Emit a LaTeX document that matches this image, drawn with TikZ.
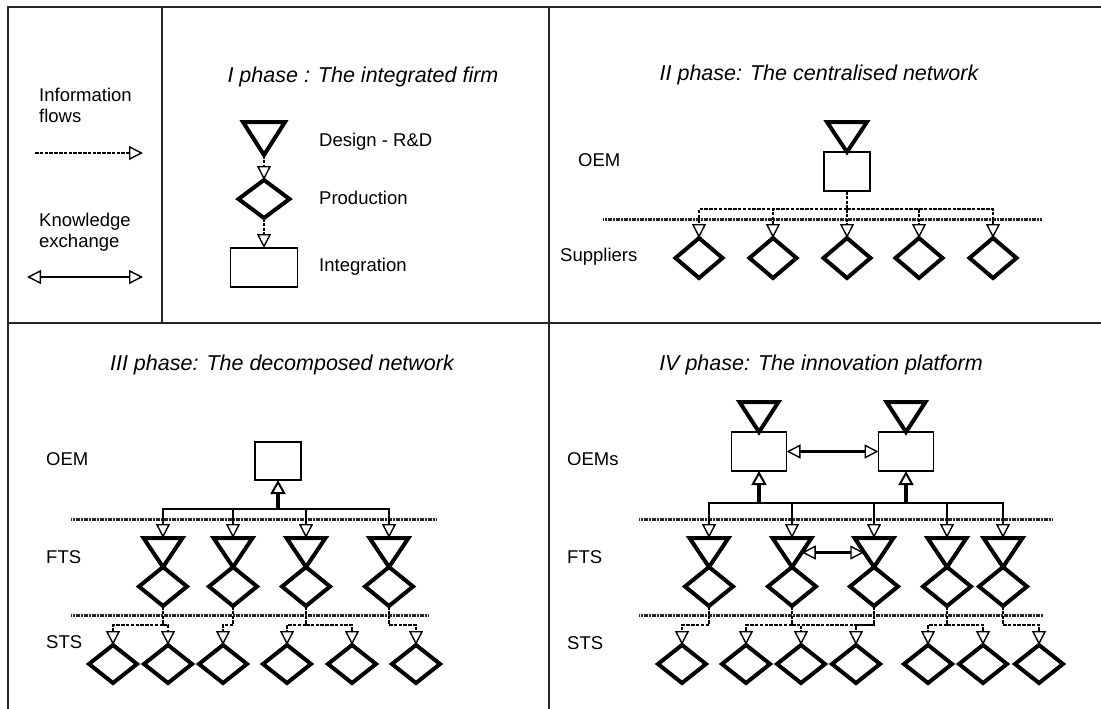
\documentclass[tikz,border=0pt]{standalone}
\usepackage{fontspec}
\setmainfont{Liberation Sans}
\usetikzlibrary{arrows.meta,shapes.geometric,calc}
\newcommand{\mytri}[5]{%
  \node[trinode, minimum width=#4pt, minimum height=#5pt] (#1) at (#2,#3) {};
  \draw[tribord] (#1.north west) -- (#1.north east) -- (#1.south) -- cycle;}
\begin{document}
\begin{tikzpicture}[x=1pt,y=-1pt,
 frame/.style={line width=1.8pt, black!85},
 lbl/.style={anchor=west, inner sep=0pt, font=\fontsize{18.5}{21}\selectfont},
 lblb/.style={anchor=base west, inner sep=0pt, font=\fontsize{18.5}{21}\selectfont},
 ttl/.style={inner sep=0pt, font=\fontsize{21.5}{25}\selectfont\itshape},
 trinode/.style={rectangle, inner sep=0pt, outer sep=0pt, draw=none},
 tribord/.style={line width=4pt, line join=miter},
 dia/.style={diamond, draw, line width=4pt, inner sep=0pt, outer sep=0pt, minimum width=48pt, minimum height=39pt},
 box/.style={rectangle, draw, line width=1.6pt, inner sep=0pt, outer sep=0pt},
 otip/.style={-{Triangle[open, length=14pt, width=14pt, line width=1.4pt]}},
 dline/.style={line width=1.9pt, dash pattern=on 3.5pt off 1.3pt},
 dflow/.style={dline, otip},
 dstem/.style={line width=2.6pt, dash pattern=on 3.5pt off 1.3pt},
 sflow/.style={line width=2pt, otip},
 upflow/.style={line width=3.2pt, -{Triangle[open, length=14pt, width=15pt, line width=2pt]}},
 kx/.style={line width=2.2pt, {Triangle[open, length=14pt, width=14pt, line width=1.4pt]}-{Triangle[open, length=14pt, width=14pt, line width=1.4pt]}},
 divider/.style={line width=3pt, black!85, dash pattern=on 1.1pt off 0.5pt},
]
\useasboundingbox (0,0) rectangle (1101,709);
% frame
\draw[frame] (1101,7) -- (8,7) -- (8,709);
\draw[frame] (162,7) -- (162,323);
\draw[frame] (549,7) -- (549,709);
\draw[frame] (8,323) -- (1101,323);

% legend
\node[lblb] (inf1) at (39,101) {Information};
\node[lblb] (inf2) at (39,122) {flows};
\coordinate (la) at (35,153); \coordinate (lb) at (143,153);
\draw[dflow] (la) -- (lb);
\node[lblb] (kn1) at (39,226) {Knowledge};
\node[lblb] (kn2) at (39,247) {exchange};
\coordinate (lc) at (27,277); \coordinate (ld) at (143,277);
\draw[kx] (lc) -- (ld);

% panel I
\node[ttl] (t1) at (363,77) {I phase : The integrated firm};
\mytri{tr1}{264}{138.5}{42}{33}
\node[dia, minimum width=51pt, minimum height=38pt] (d1) at (264,199) {};
\node[box, minimum width=67pt, minimum height=39pt] (b1) at (264,267.5) {};
\draw[dflow] (tr1.south) -- (d1.north);
\draw[dflow] (d1.south) -- (b1.north);
\node[lbl] (l11) at (319,142) {Design - R\&D};
\node[lbl] (l12) at (319,198) {Production};
\node[lbl] (l13) at (319,267) {Integration};

% panel II
\node[ttl] (t2) at (819,75) {II phase: The centralised network};
\node[lbl] (l21) at (578,160) {OEM};
\node[lbl] (l22) at (560,257) {Suppliers};
\mytri{tr2}{847}{137}{40}{30}
\node[box, minimum width=46pt, minimum height=39pt] (b2) at (847,171.5) {};
\coordinate (h2) at (847,209);
\draw[divider] (603,219) -- (1042,219);
\foreach \i/\x in {1/699,2/773,3/847,4/919,5/993}{
  \node[dia, minimum width=47pt, minimum height=40pt] (s2\i) at (\x,258) {};
}
\draw[dstem] (b2.south) -- (h2);
\foreach \i in {1,...,5}{ \draw[dflow] (h2) -| (s2\i.north); }

% panel III
\node[ttl] (t3) at (282,365) {III phase: The decomposed network};
\node[lbl] (l31) at (46,459) {OEM};
\node[lbl] (l32) at (46,557) {FTS};
\node[lbl] (l33) at (46,642) {STS};
\node[box, minimum width=46pt, minimum height=38pt] (b3) at (278,461) {};
\coordinate (h3) at (278,509);
\draw[divider] (71,519) -- (437,519);
\draw[divider] (71,615) -- (428,615);
\draw[upflow] (h3) -- (b3.south);
\foreach \i/\x in {1/163,2/233,3/306,4/389}{
  \mytri{f3\i}{\x}{552.5}{39}{29}
  \node[dia] (g3\i) at (\x,586.5) {};
  \coordinate (k3\i) at (\x,625);
  \draw[sflow] (h3) -| (f3\i.north);
  \draw[dline] (g3\i.south) -- (k3\i);
}
\foreach \i/\x in {1/113,2/168,3/223,4/287,5/352,6/416}{
  \node[dia, minimum height=38pt] (s3\i) at (\x,664) {};
}
\draw[dflow] (k31) -| (s31.north);
\draw[dflow] (k31) -| (s32.north);
\draw[dflow] (k32) -| (s33.north);
\draw[dflow] (k33) -| (s34.north);
\draw[dflow] (k33) -| (s35.north);
\draw[dflow] (k34) -| (s36.north);

% panel IV
\node[ttl] (t4) at (821,365) {IV phase: The innovation platform};
\node[lbl] (l41) at (567,459) {OEMs};
\node[lbl] (l42) at (567,557) {FTS};
\node[lbl] (l43) at (567,643) {STS};
\mytri{tr4a}{759}{417}{39}{30}
\mytri{tr4b}{906}{417}{39}{30}
\node[box, minimum width=55pt, minimum height=39pt] (b4a) at (759,451.5) {};
\node[box, minimum width=55pt, minimum height=39pt] (b4b) at (906,451.5) {};
\draw[kx] (b4a.east) -- (b4b.west);
\coordinate (h4a) at (759,503);
\coordinate (h4b) at (906,503);
\draw[divider] (639,519) -- (1052,519);
\draw[divider] (639,615) -- (1043,615);
\draw[upflow] (h4a) -- (b4a.south);
\draw[upflow] (h4b) -- (b4b.south);
\draw[line width=2pt] (h4a) -- (h4b);
\foreach \i/\x in {1/709,2/792,3/874,4/947,5/1003}{
  \mytri{f4\i}{\x}{552.5}{39}{29}
  \node[dia] (g4\i) at (\x,586.5) {};
  \coordinate (k4\i) at (\x,625);
  \draw[dline] (g4\i.south) -- (k4\i);
}
\draw[sflow] (h4a) -| (f41.north);
\draw[sflow] (h4a) -| (f42.north);
\draw[sflow] (h4a) -| (f43.north);
\draw[sflow] (h4b) -| (f44.north);
\draw[sflow] (h4b) -| (f45.north);
\draw[kx] ($(f42.north east)!0.5!(f42.south)$) -- ($(f43.north west)!0.5!(f43.south)$);
\foreach \i/\x in {1/682,2/746,3/801,4/856,5/928,6/983,7/1039}{
  \node[dia, minimum height=38pt] (s4\i) at (\x,664) {};
}
\draw[dline] (k42) -- (k43);
\draw[dflow] (k41) -| (s41.north);
\draw[dflow] (k42) -| (s42.north);
\draw[dflow] (k42) -| (s43.north);
\draw[dflow] (k43) -| (s44.north);
\draw[dflow] (k44) -| (s45.north);
\draw[dflow] (k44) -| (s46.north);
\draw[dflow] (k45) -| (s47.north);
\end{tikzpicture}
\end{document}
